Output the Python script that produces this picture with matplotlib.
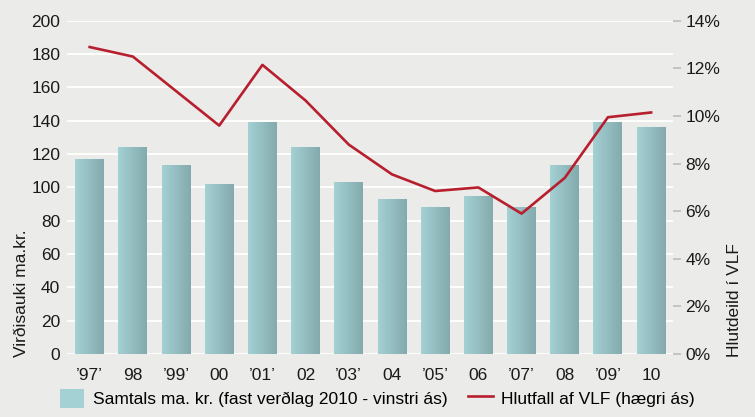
import numpy as np
import matplotlib.pyplot as plt
from matplotlib.patches import Patch
from matplotlib.lines import Line2D
from matplotlib.colors import LinearSegmentedColormap

plt.rcParams['font.family'] = ['Liberation Sans', 'DejaVu Sans']

# data
years = ['’97’', '98', '’99’', '00', '’01’', '02', '’03’', '04',
         '’05’', '06', '’07’', '08', '’09’', '10']
value_bn = [117, 124, 113.5, 102, 139, 124.5, 103, 93,
            88, 95, 88, 113.5, 139, 136.5]
share_gdp = [12.9, 12.5, 11.05, 9.6, 12.15, 10.65, 8.8, 7.55,
             6.85, 7.0, 5.9, 7.4, 9.95, 10.15]

bg = '#ebebe9'
line_col = '#b81f2e'
txt = '#1a1a1a'
fs = 12.5
grad = LinearSegmentedColormap.from_list('bar', ['#a4d1d4', '#84aaad'])

fig = plt.figure(figsize=(7.55, 4.17), dpi=100, facecolor=bg)
ax = fig.add_axes([0.089, 0.151, 0.802, 0.799])
ax.set_facecolor(bg)

x = np.arange(len(years))
bars = ax.bar(x, value_bn, width=0.67, color='none', zorder=2)
# horizontal gradient in each bar
g = np.linspace(0, 1, 64).reshape(1, -1)
for b in bars:
    x0, y0 = b.get_x(), b.get_y()
    im = ax.imshow(g, cmap=grad, aspect='auto', zorder=2,
                   extent=[x0, x0 + b.get_width(), y0, y0 + b.get_height()])
    im.set_clip_path(b)

ax.set_xlim(-0.52, 13.5)
ax.set_ylim(0, 200)
ax.set_yticks(range(0, 201, 20))
ax.set_xticks(x)
ax.set_xticklabels(years)
ax.grid(axis='y', color='white', linewidth=1.3, zorder=1)
ax.set_axisbelow(True)
for s in ax.spines.values():
    s.set_visible(False)
ax.tick_params(axis='both', length=0, labelsize=fs, colors=txt)
ax.tick_params(axis='x', pad=10)
ax.tick_params(axis='y', pad=5)
ax.set_ylabel('Virðisauki ma.kr.', fontsize=fs, color=txt)
ax.yaxis.set_label_coords(-0.075, -0.01, transform=ax.transAxes)
ax.yaxis.label.set_va('center')
ax.yaxis.label.set_ha('left')

ax2 = ax.twinx()
ax2.plot(x, share_gdp, color=line_col, linewidth=1.9, zorder=3)
ax2.set_ylim(0, 14)
ax2.set_yticks(range(0, 15, 2))
ax2.set_yticklabels([f'{v}%' for v in range(0, 15, 2)])
for s in ax2.spines.values():
    s.set_visible(False)
ax2.tick_params(axis='y', length=6, width=1.2, color='#bdbdbd',
                labelsize=fs, labelcolor=txt, pad=3)
ax2.set_ylabel('Hlutdeild í VLF', fontsize=fs, color=txt)
ax2.yaxis.set_label_coords(1.09, -0.01, transform=ax.transAxes)
ax2.yaxis.label.set_ha('left')

handles = [Patch(facecolor='#a4d1d4', edgecolor='none'),
           Line2D([0], [0], color=line_col, linewidth=1.9)]
labels = ['Samtals ma. kr. (fast verðlag 2010 - vinstri ás)',
          'Hlutfall af VLF (hægri ás)']
fig.legend(handles, labels, loc='lower center', bbox_to_anchor=(0.5, -0.015),
           ncol=2, frameon=False, fontsize=fs, handlelength=1.4,
           handleheight=1.3, columnspacing=1.2, handletextpad=0.5)

fig.savefig('out.png', dpi=100, facecolor=bg)
